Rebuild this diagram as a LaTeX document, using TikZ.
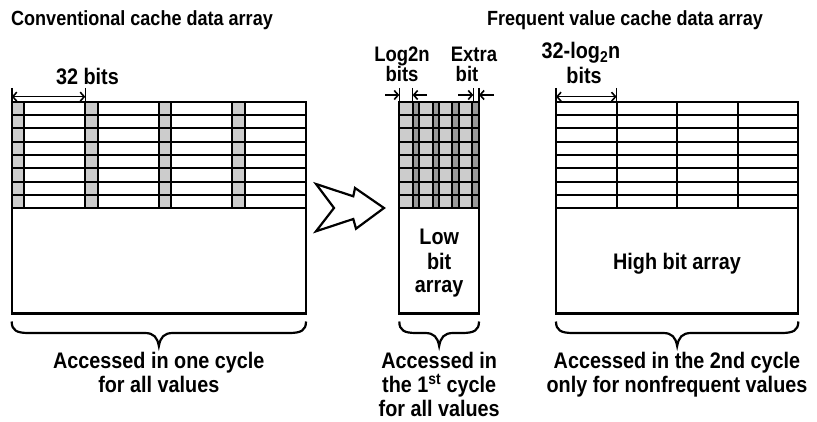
\documentclass[tikz,border=0pt]{standalone}
\usepackage{fontspec}
\setmainfont{Liberation Sans}
\newfontfamily\cond[FakeStretch=0.88]{Liberation Sans}
\usetikzlibrary{arrows.meta}
\definecolor{cellgray}{HTML}{CCCCCC}
\definecolor{darkcell}{HTML}{999999}
\newcommand\mybrace[4]{% x0, x1, ytop, name
  \draw[bracepath] (#1,#3) .. controls (#1,{#3+9}) and ({#1+5},{#3+11.5}) .. ({#1+17},{#3+11.5})
    -- ({(#1+#2)/2-14},{#3+11.5}) .. controls ({(#1+#2)/2-5},{#3+11.5}) and ({(#1+#2)/2-1.5},{#3+16}) .. ({(#1+#2)/2},{#3+24.5}) coordinate (#4)
    .. controls ({(#1+#2)/2+1.5},{#3+16}) and ({(#1+#2)/2+5},{#3+11.5}) .. ({(#1+#2)/2+14},{#3+11.5})
    -- ({#2-17},{#3+11.5}) .. controls ({#2-5},{#3+11.5}) and (#2,{#3+9}) .. (#2,#3);}
\begin{document}
\begin{tikzpicture}[x=1pt,y=-1pt,
  grid/.style={line width=2pt},
  frame/.style={line width=2.2pt},
  bracepath/.style={line width=2.2pt},
  dim/.style={line width=1.6pt},
  dimarrow/.style={line width=1.6pt,-{Straight Barb[length=4pt,width=9pt,line width=1.6pt]}},
  dimboth/.style={line width=1.6pt,{Straight Barb[length=4pt,width=9pt,line width=1.6pt]}-{Straight Barb[length=4pt,width=9pt,line width=1.6pt]}},
  title/.style={font=\cond\bfseries\fontsize{20.5}{22}\selectfont, inner sep=0pt, anchor=base},
  lbl/.style={font=\cond\bfseries\fontsize{22.5}{24}\selectfont, inner sep=0pt, anchor=base},
  mlbl/.style={font=\cond\bfseries\fontsize{21}{22}\selectfont, inner sep=0pt, anchor=base},
  bigarrow/.style={line width=2.2pt, line join=miter, fill=white}]
\useasboundingbox[fill=white] (0,0) rectangle (817,422);

% ---------- titles
\node[title] (t1) at (142,26) {Conventional cache data array};
\node[title] (t2) at (625,26) {Frequent value cache data array};

% ---------- left array
\foreach \i in {0,...,3}
  \fill[cellgray] ({11.7+\i*73.575},101.7) rectangle ++(12.6,106.6);
\foreach \r in {1,...,8}
  \draw[grid] (11.7,{101.7+\r*13.325}) -- (306,{101.7+\r*13.325});
\foreach \i in {1,...,3}
  \draw[grid] ({11.7+\i*73.575},101.7) -- ++(0,106.6);
\foreach \i in {0,...,3}
  \draw[grid] ({24.3+\i*73.575},101.7) -- ++(0,106.6);
\draw[frame] (11.7,101.7) rectangle (306,313.5);

% 32 bits
\coordinate (la) at (11.7,96.7);
\coordinate (lb) at (85.3,96.7);
\draw[dim] (11.7,88) -- (11.7,101.7);
\draw[dim] (85.3,88) -- (85.3,101.7);
\draw[dimboth] (la) -- (lb);
\node[lbl] (b32) at (87.5,85) {32 bits};

% ---------- big arrow
\draw[bigarrow] (316,184) -- (353.3,196.3) -- (355,188) -- (384,208) -- (356,228.7)
  -- (353.3,219) -- (316,231.3) -- (334,208) -- cycle;

% ---------- middle array
\fill[cellgray] (399.3,101.7) rectangle (479,208.3);
\foreach \i in {0,...,3}
  \fill[darkcell] ({399.3+\i*19.925+13.3},101.7) rectangle ({399.3+(\i+1)*19.925},208.3);
\foreach \r in {1,...,8}
  \draw[grid] (399.3,{101.7+\r*13.325}) -- (479,{101.7+\r*13.325});
\foreach \i in {1,...,3}
  \draw[grid] ({399.3+\i*19.925},101.7) -- ++(0,106.6);
\foreach \i in {0,...,3}
  \draw[grid] ({399.3+\i*19.925+13.3},101.7) -- ++(0,106.6);
\draw[frame] (399.3,101.7) rectangle (479,313.5);
\node[lbl] (low1) at (439.2,245) {Low};
\node[lbl] (low2) at (439.2,270) {bit};
\node[lbl] (low3) at (439.2,293) {array};

% dimension marks middle
\draw[dim] (399.3,88) -- (399.3,101.7);
\draw[dim] (412.6,88) -- (412.6,101.7);
\draw[dim] (473.3,88) -- (473.3,101.7);
\draw[dim] (479,88) -- (479,101.7);
\coordinate (m1) at (385,95);  \coordinate (m1e) at (399.3,95);
\coordinate (m2) at (427,95);  \coordinate (m2e) at (412.6,95);
\coordinate (m3) at (458,95);  \coordinate (m3e) at (473.3,95);
\coordinate (m4) at (494,95);  \coordinate (m4e) at (479,95);
\draw[dimarrow] (m1) -- (m1e);
\draw[dimarrow] (m2) -- (m2e);
\draw[dimarrow] (m3) -- (m3e);
\draw[dimarrow] (m4) -- (m4e);
\node[mlbl] (lg1) at (402,62) {Log2n};
\node[mlbl] (lg2) at (402,82) {bits};
\node[mlbl] (ex1) at (474,62) {Extra};
\node[mlbl] (ex2) at (467,82) {bit};

% ---------- right array
\foreach \r in {1,...,8}
  \draw[grid] (556,{101.7+\r*13.325}) -- (798.3,{101.7+\r*13.325});
\foreach \i in {1,...,3}
  \draw[grid] ({556+\i*60.575},101.7) -- ++(0,106.6);
\draw[frame] (556,101.7) rectangle (798.3,313.5);
\node[lbl] (hb) at (677,270) {High bit array};

\draw[dim] (556,88) -- (556,101.7);
\draw[dim] (616.6,88) -- (616.6,101.7);
\coordinate (ra) at (556,96.7);
\coordinate (rb) at (616.6,96.7);
\draw[dimboth] (ra) -- (rb);
\node[lbl] (r1) at (581,59) {32-log\textsubscript{2}n};
\node[lbl] (r2) at (584,84) {bits};

% ---------- braces
\mybrace{11.7}{306}{321.5}{bl}
\mybrace{399.3}{479}{321.5}{bm}
\mybrace{556}{798.3}{321.5}{br}

\node[lbl] (a1) at (158.8,368) {Accessed in one cycle};
\node[lbl] (a2) at (158.8,392) {for all values};
\node[lbl] (m1t) at (439.2,368) {Accessed in};
\node[lbl] (m2t) at (439.2,392) {the 1\textsuperscript{st} cycle};
\node[lbl] (m3t) at (439.2,416) {for all values};
\node[lbl] (c1) at (677,368) {Accessed in the 2nd cycle};
\node[lbl] (c2) at (677,392) {only for nonfrequent values};
\end{tikzpicture}
\end{document}
